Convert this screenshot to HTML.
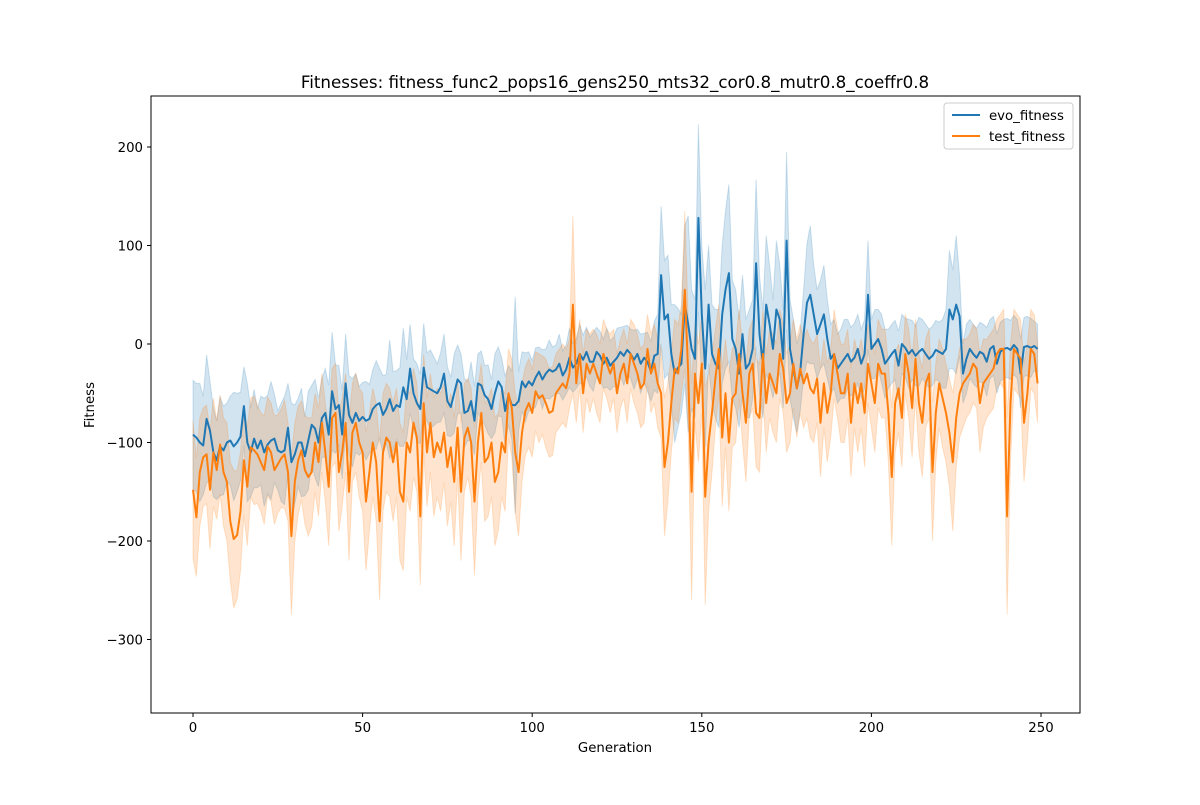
<!DOCTYPE html>
<html><head><meta charset="utf-8"><style>
body{margin:0;background:#fff;}
svg{font-family:"DejaVu Sans","Liberation Sans",sans-serif;}
</style></head><body>
<svg id="chart" width="1200" height="800" xmlns="http://www.w3.org/2000/svg">
<rect width="1200" height="800" fill="#fff"/>
<text x="615" y="88" font-size="16.7" text-anchor="middle">Fitnesses: fitness_func2_pops16_gens250_mts32_cor0.8_mutr0.8_coeffr0.8</text>
<g id="bands"></g><g id="lines"></g>
<rect x="151" y="96" width="929" height="617" fill="none" stroke="#000" stroke-width="1"/>
<g id="axes" font-size="13.3"></g>
<text x="615" y="752" font-size="13.3" text-anchor="middle">Generation</text>
<text x="94" y="405" font-size="13.3" text-anchor="middle" transform="rotate(-90 94 405)">Fitness</text>
<g>
<rect x="944" y="103" width="129" height="46" rx="3" fill="#fff" fill-opacity="0.8" stroke="#ccc"/>
<g><line x1="952" y1="115" x2="980" y2="115" stroke="#1f77b4" stroke-width="2"/><text x="989" y="120" font-size="13.3">evo_fitness</text></g>
<g><line x1="952" y1="136" x2="980" y2="136" stroke="#ff7f0e" stroke-width="2"/><text x="989" y="141" font-size="13.3">test_fitness</text></g>
</g>
</svg>
<script>
const xTicks=[0,50,100,150,200,250];
const yTicks=[-300,-200,-100,0,100,200];
const evoMean=[-92,-95,-100,-103,-76,-88,-110,-118,-104,-108,-100,-98,-104,-100,-94,-63,-100,-110,-96,-106,-98,-110,-102,-98,-96,-108,-110,-108,-85,-120,-112,-100,-100,-114,-98,-82,-86,-100,-75,-70,-92,-48,-66,-62,-92,-40,-72,-80,-70,-78,-74,-78,-76,-66,-62,-60,-72,-66,-56,-68,-62,-64,-44,-56,-25,-50,-60,-66,-24,-44,-46,-48,-50,-44,-30,-58,-64,-50,-36,-40,-70,-68,-58,-78,-40,-42,-52,-56,-66,-50,-38,-44,-68,-52,-62,-62,-58,-38,-44,-38,-42,-34,-28,-36,-30,-26,-28,-26,-20,-32,-26,-14,-24,-20,-10,-16,-8,-18,-18,-8,-12,-20,-14,-22,-18,-14,-8,-12,-6,-10,-16,-10,-20,-14,-18,-28,-12,-10,70,25,30,-10,-30,-24,-20,40,20,-5,-15,128,30,-25,40,-10,-20,-25,30,55,72,5,-5,-30,10,-25,-20,-5,82,10,-20,40,20,-5,35,25,-15,105,-5,-25,-45,-28,10,42,50,30,10,20,30,5,-15,-10,-25,-20,-15,-10,-18,-14,-5,-20,-10,50,-5,0,5,-5,-20,-15,-10,-6,-22,0,-4,-10,-6,-12,-8,-5,-10,-15,-12,-6,-8,-10,-5,35,25,40,28,-30,-15,-5,-10,-14,-8,-10,-18,-5,-2,-20,-8,-5,-4,-6,-1,-5,-30,-3,-2,-4,-2,-5];
const testMean=[-148,-176,-130,-115,-112,-148,-110,-128,-102,-130,-140,-180,-198,-194,-170,-118,-145,-105,-108,-112,-120,-128,-104,-110,-128,-122,-116,-112,-130,-195,-140,-118,-108,-128,-135,-130,-100,-120,-80,-110,-145,-75,-70,-130,-110,-80,-150,-90,-80,-100,-110,-160,-130,-100,-120,-180,-110,-95,-100,-120,-100,-150,-160,-100,-110,-80,-95,-175,-60,-110,-80,-115,-100,-110,-90,-125,-105,-140,-85,-150,-95,-85,-100,-160,-100,-70,-120,-115,-100,-140,-130,-100,-110,-50,-65,-110,-130,-90,-68,-60,-70,-48,-55,-52,-60,-70,-68,-50,-45,-40,-45,-30,40,-40,-10,-50,-20,-30,-20,-30,-40,-10,-20,-30,-20,-50,-30,-20,-40,-10,-20,-30,-45,-40,-5,-30,-20,-40,-50,-125,-100,-60,-25,-30,-5,55,-30,-150,-30,-60,-20,-155,-100,-70,-35,-5,-95,-50,-100,-55,-50,-10,-50,-80,-30,-20,-70,-75,-10,-60,-30,-40,-50,-10,-25,-60,-50,-20,-45,-25,-40,-30,-45,-50,-35,-80,-40,-70,-50,-10,-30,-50,-50,-30,-80,-40,-60,-40,-70,-20,-40,-60,-20,-30,-30,-70,-135,-60,-45,-75,-10,-30,-65,-15,-60,-80,-40,-30,-130,-70,-40,-55,-70,-90,-120,-75,-50,-40,-35,-30,-20,-25,-60,-40,-35,-30,-25,-10,-5,-5,-175,-60,-5,-10,-15,-80,-50,-5,-10,-40];
const evoSpread=[55,55,60,50,65,50,45,40,50,45,40,45,55,50,45,40,60,45,50,40,45,55,50,60,45,40,50,55,45,60,50,45,55,40,50,40,50,45,40,45,50,60,45,40,45,50,40,45,40,35,35,40,35,40,45,35,40,35,60,40,35,40,60,40,45,35,40,35,45,35,40,35,30,35,40,35,30,40,35,30,35,30,40,35,30,35,30,35,30,40,35,30,35,30,35,110,30,30,35,30,25,30,25,30,25,30,25,25,30,25,25,30,25,25,30,25,25,25,30,25,25,25,30,25,25,30,25,30,25,25,30,25,30,25,30,30,35,40,70,60,60,50,70,60,50,80,110,60,60,95,70,80,60,50,55,60,70,80,90,60,60,55,60,50,55,50,85,60,55,70,60,50,70,55,50,90,50,50,45,40,45,60,70,50,45,45,50,40,35,35,35,35,40,35,35,35,35,35,35,55,30,35,30,35,35,30,30,30,35,30,30,35,30,30,35,30,30,30,30,30,30,35,40,60,50,70,40,30,35,30,30,30,30,30,35,30,30,30,30,30,30,30,30,30,35,30,30,30,25,25];
const testSpread=[70,60,55,50,50,60,55,50,50,55,60,60,70,65,60,55,60,50,55,50,50,55,50,50,55,50,50,55,50,80,60,55,50,55,60,55,50,55,50,50,60,50,50,60,55,50,70,50,50,55,60,70,60,55,60,80,60,55,55,60,55,70,70,55,60,55,55,70,50,55,50,60,55,60,50,60,55,65,50,70,55,50,55,75,55,50,60,60,55,65,60,55,60,45,50,60,65,50,45,45,45,40,45,40,45,45,45,40,40,40,40,35,90,40,35,40,35,40,35,40,40,35,35,40,35,40,35,35,40,35,40,40,40,40,35,40,40,45,45,70,60,50,50,50,45,80,55,110,50,60,50,110,70,60,50,45,70,55,70,50,50,45,50,60,45,45,55,55,45,50,45,50,50,45,45,50,50,45,50,45,45,45,50,50,45,55,45,50,45,45,45,50,50,45,55,45,50,45,55,40,45,50,45,45,45,50,70,50,45,50,40,45,50,40,50,55,45,45,70,50,45,50,50,55,70,50,45,45,40,40,40,40,50,45,40,40,40,35,35,40,100,60,40,40,40,60,50,40,40,40];
const NS='http://www.w3.org/2000/svg';
const X=g=>193+g*(1041-193)/250;
const Y=v=>344-v*0.985;
const bands=document.getElementById('bands'),lines=document.getElementById('lines'),axes=document.getElementById('axes');
function series(mean,spread,color,name){
  let up=[],lo=[];
  mean.forEach((m,i)=>{up.push(X(i).toFixed(1)+','+Y(m+spread[i]).toFixed(1));lo.unshift(X(i).toFixed(1)+','+Y(m-spread[i]).toFixed(1));});
  const b=document.createElementNS(NS,'polygon');
  b.setAttribute('points',up.concat(lo).join(' '));
  b.setAttribute('fill',color);b.setAttribute('fill-opacity','0.2');b.setAttribute('stroke',color);b.setAttribute('stroke-opacity','0.2');
  
  
  bands.appendChild(b);
  const l=document.createElementNS(NS,'polyline');
  l.setAttribute('points',mean.map((m,i)=>X(i).toFixed(1)+','+Y(m).toFixed(1)).join(' '));
  l.setAttribute('fill','none');l.setAttribute('stroke',color);l.setAttribute('stroke-width','2');l.setAttribute('stroke-linejoin','round');
  
  
  lines.appendChild(l);
}
series(evoMean,evoSpread,'#1f77b4','evo-fitness');
series(testMean,testSpread,'#ff7f0e','test-fitness');
xTicks.forEach(t=>{
  const g=document.createElementNS(NS,'g');
  
  
  g.innerHTML=`<line x1="${X(t)}" y1="713" x2="${X(t)}" y2="717" stroke="#000"/><text x="${X(t)}" y="732" text-anchor="middle">${t}</text>`;
  axes.appendChild(g);
});
yTicks.forEach(t=>{
  const g=document.createElementNS(NS,'g');
  
  
  g.innerHTML=`<line x1="147" y1="${Y(t)}" x2="151" y2="${Y(t)}" stroke="#000"/><text x="143" y="${Y(t)+5}" text-anchor="end">${t===0?'0':(t<0?'\u2212'+(-t):t)}</text>`;
  axes.appendChild(g);
});
</script>
</body></html>
